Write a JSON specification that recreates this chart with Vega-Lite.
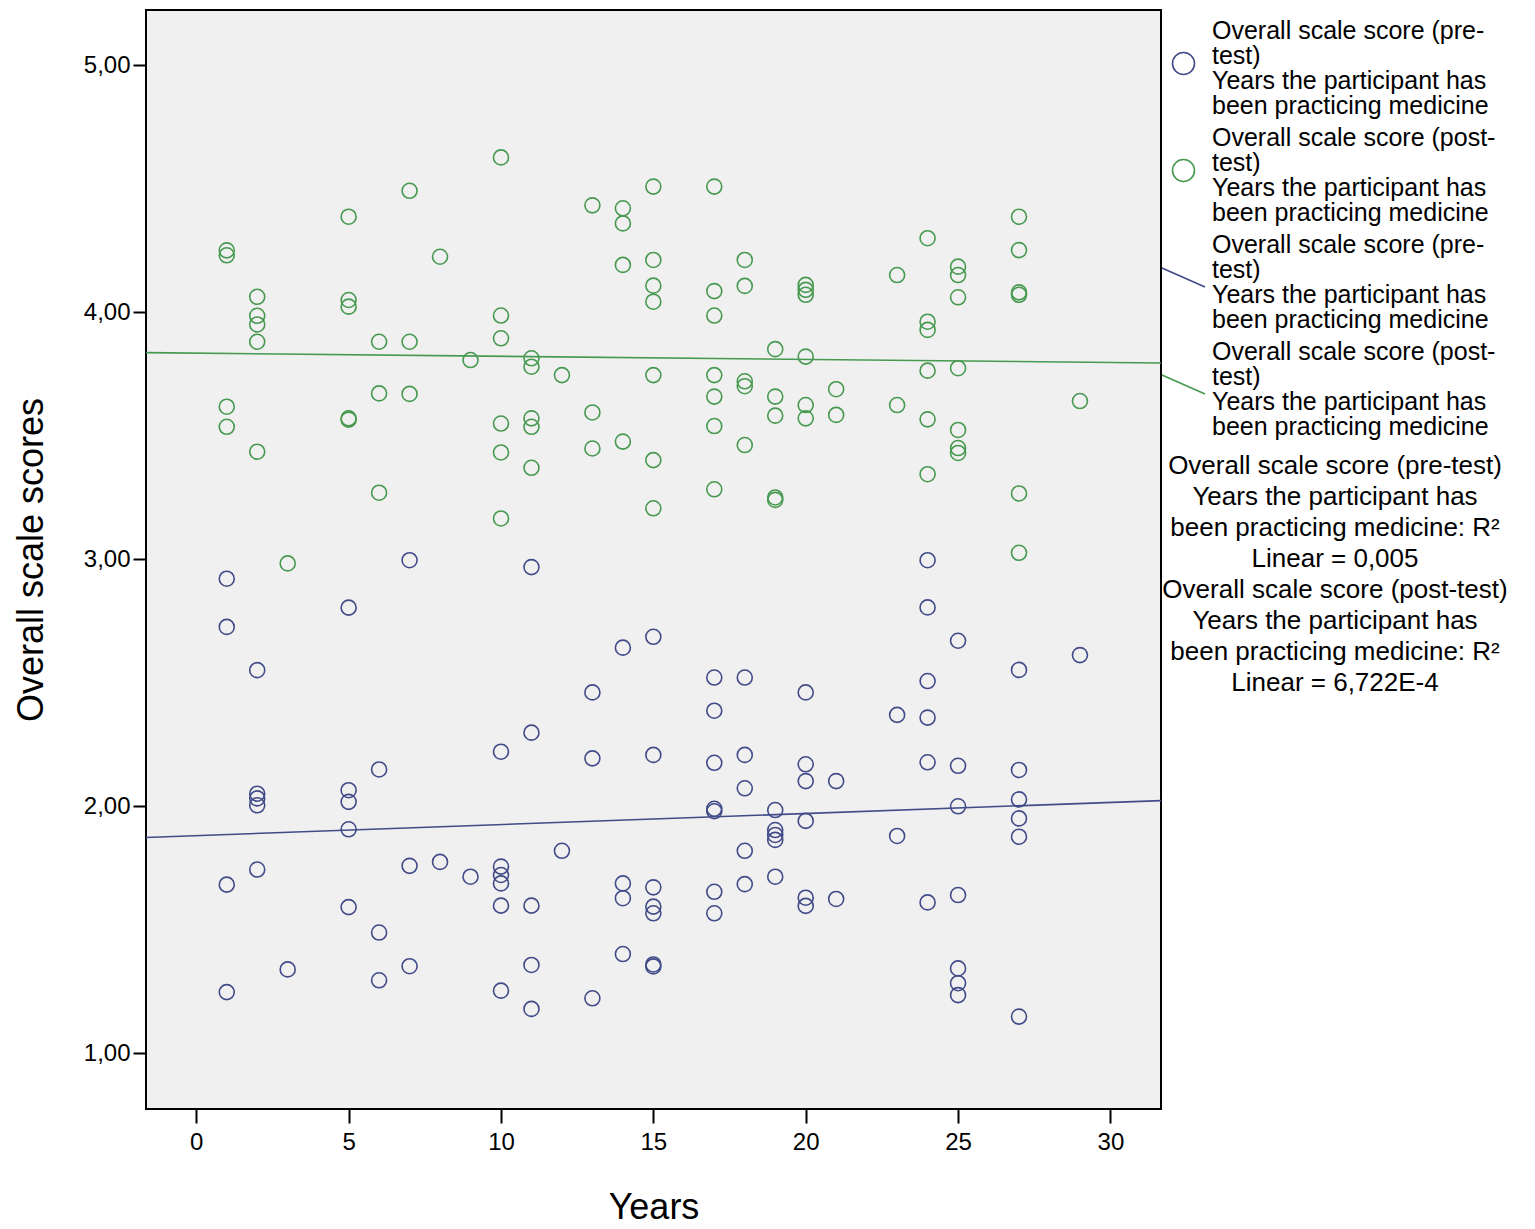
{
  "$schema": "https://vega.github.io/schema/vega-lite/v6.json",
  "autosize": "none",
  "width": 1015,
  "height": 1099,
  "padding": {"left": 146, "top": 10, "right": 374, "bottom": 120},
  "background": "white",
  "config": {
    "view": {"fill": "#f0f0f0", "stroke": "black", "strokeWidth": 2},
    "axis": {
      "labelFont": "Liberation Sans", "titleFont": "Liberation Sans",
      "labelColor": "black", "titleColor": "black", "tickColor": "black",
      "labelFontSize": 24, "titleFontSize": 36, "titleFontWeight": "normal",
      "grid": false, "domain": false, "tickWidth": 2
    }
  },
  "data": {"values": [
    {"years":1,"score":2.921,"series":"pre"},{"years":1,"score":2.726,"series":"pre"},{"years":1,"score":1.683,"series":"pre"},{"years":1,"score":1.248,"series":"pre"},
    {"years":2,"score":2.551,"series":"pre"},{"years":2,"score":2.051,"series":"pre"},{"years":2,"score":2.032,"series":"pre"},{"years":2,"score":2.004,"series":"pre"},{"years":2,"score":1.744,"series":"pre"},
    {"years":3,"score":1.340,"series":"pre"},
    {"years":5,"score":2.804,"series":"pre"},{"years":5,"score":2.065,"series":"pre"},{"years":5,"score":2.018,"series":"pre"},{"years":5,"score":1.907,"series":"pre"},{"years":5,"score":1.592,"series":"pre"},
    {"years":6,"score":2.149,"series":"pre"},{"years":6,"score":1.489,"series":"pre"},{"years":6,"score":1.296,"series":"pre"},
    {"years":7,"score":2.996,"series":"pre"},{"years":7,"score":1.759,"series":"pre"},{"years":7,"score":1.353,"series":"pre"},
    {"years":8,"score":1.775,"series":"pre"},
    {"years":9,"score":1.715,"series":"pre"},
    {"years":10,"score":2.221,"series":"pre"},{"years":10,"score":1.756,"series":"pre"},{"years":10,"score":1.722,"series":"pre"},{"years":10,"score":1.688,"series":"pre"},{"years":10,"score":1.598,"series":"pre"},{"years":10,"score":1.254,"series":"pre"},
    {"years":11,"score":2.968,"series":"pre"},{"years":11,"score":2.298,"series":"pre"},{"years":11,"score":1.598,"series":"pre"},{"years":11,"score":1.358,"series":"pre"},{"years":11,"score":1.180,"series":"pre"},
    {"years":12,"score":1.820,"series":"pre"},
    {"years":13,"score":2.461,"series":"pre"},{"years":13,"score":2.194,"series":"pre"},{"years":13,"score":1.223,"series":"pre"},
    {"years":14,"score":2.642,"series":"pre"},{"years":14,"score":1.688,"series":"pre"},{"years":14,"score":1.628,"series":"pre"},{"years":14,"score":1.402,"series":"pre"},
    {"years":15,"score":2.686,"series":"pre"},{"years":15,"score":2.208,"series":"pre"},{"years":15,"score":1.672,"series":"pre"},{"years":15,"score":1.594,"series":"pre"},{"years":15,"score":1.567,"series":"pre"},{"years":15,"score":1.360,"series":"pre"},{"years":15,"score":1.352,"series":"pre"},
    {"years":17,"score":2.521,"series":"pre"},{"years":17,"score":2.387,"series":"pre"},{"years":17,"score":2.176,"series":"pre"},{"years":17,"score":1.990,"series":"pre"},{"years":17,"score":1.980,"series":"pre"},{"years":17,"score":1.654,"series":"pre"},{"years":17,"score":1.567,"series":"pre"},
    {"years":18,"score":2.521,"series":"pre"},{"years":18,"score":2.208,"series":"pre"},{"years":18,"score":2.073,"series":"pre"},{"years":18,"score":1.820,"series":"pre"},{"years":18,"score":1.685,"series":"pre"},
    {"years":19,"score":1.985,"series":"pre"},{"years":19,"score":1.904,"series":"pre"},{"years":19,"score":1.884,"series":"pre"},{"years":19,"score":1.864,"series":"pre"},{"years":19,"score":1.715,"series":"pre"},
    {"years":20,"score":2.461,"series":"pre"},{"years":20,"score":2.170,"series":"pre"},{"years":20,"score":2.102,"series":"pre"},{"years":20,"score":1.941,"series":"pre"},{"years":20,"score":1.630,"series":"pre"},{"years":20,"score":1.597,"series":"pre"},
    {"years":21,"score":2.102,"series":"pre"},{"years":21,"score":1.625,"series":"pre"},
    {"years":23,"score":2.370,"series":"pre"},{"years":23,"score":1.880,"series":"pre"},
    {"years":24,"score":2.996,"series":"pre"},{"years":24,"score":2.805,"series":"pre"},{"years":24,"score":2.507,"series":"pre"},{"years":24,"score":2.359,"series":"pre"},{"years":24,"score":2.178,"series":"pre"},{"years":24,"score":1.611,"series":"pre"},
    {"years":25,"score":2.670,"series":"pre"},{"years":25,"score":2.164,"series":"pre"},{"years":25,"score":2.000,"series":"pre"},{"years":25,"score":1.641,"series":"pre"},{"years":25,"score":1.344,"series":"pre"},{"years":25,"score":1.284,"series":"pre"},{"years":25,"score":1.236,"series":"pre"},
    {"years":27,"score":2.552,"series":"pre"},{"years":27,"score":2.147,"series":"pre"},{"years":27,"score":2.028,"series":"pre"},{"years":27,"score":1.951,"series":"pre"},{"years":27,"score":1.877,"series":"pre"},{"years":27,"score":1.149,"series":"pre"},
    {"years":29,"score":2.612,"series":"pre"},

    {"years":1,"score":4.250,"series":"post"},{"years":1,"score":4.230,"series":"post"},{"years":1,"score":3.617,"series":"post"},{"years":1,"score":3.536,"series":"post"},
    {"years":2,"score":4.062,"series":"post"},{"years":2,"score":3.985,"series":"post"},{"years":2,"score":3.950,"series":"post"},{"years":2,"score":3.880,"series":"post"},{"years":2,"score":3.435,"series":"post"},
    {"years":3,"score":2.983,"series":"post"},
    {"years":5,"score":4.386,"series":"post"},{"years":5,"score":4.049,"series":"post"},{"years":5,"score":4.022,"series":"post"},{"years":5,"score":3.570,"series":"post"},{"years":5,"score":3.565,"series":"post"},
    {"years":6,"score":3.880,"series":"post"},{"years":6,"score":3.671,"series":"post"},{"years":6,"score":3.269,"series":"post"},
    {"years":7,"score":4.491,"series":"post"},{"years":7,"score":3.880,"series":"post"},{"years":7,"score":3.669,"series":"post"},
    {"years":8,"score":4.224,"series":"post"},
    {"years":9,"score":3.806,"series":"post"},
    {"years":10,"score":4.626,"series":"post"},{"years":10,"score":3.986,"series":"post"},{"years":10,"score":3.894,"series":"post"},{"years":10,"score":3.549,"series":"post"},{"years":10,"score":3.432,"series":"post"},{"years":10,"score":3.165,"series":"post"},
    {"years":11,"score":3.813,"series":"post"},{"years":11,"score":3.779,"series":"post"},{"years":11,"score":3.570,"series":"post"},{"years":11,"score":3.536,"series":"post"},{"years":11,"score":3.370,"series":"post"},
    {"years":12,"score":3.745,"series":"post"},
    {"years":13,"score":4.432,"series":"post"},{"years":13,"score":3.594,"series":"post"},{"years":13,"score":3.448,"series":"post"},
    {"years":14,"score":4.420,"series":"post"},{"years":14,"score":4.359,"series":"post"},{"years":14,"score":4.191,"series":"post"},{"years":14,"score":3.476,"series":"post"},
    {"years":15,"score":4.508,"series":"post"},{"years":15,"score":4.211,"series":"post"},{"years":15,"score":4.107,"series":"post"},{"years":15,"score":4.042,"series":"post"},{"years":15,"score":3.745,"series":"post"},{"years":15,"score":3.401,"series":"post"},{"years":15,"score":3.206,"series":"post"},
    {"years":17,"score":4.508,"series":"post"},{"years":17,"score":4.085,"series":"post"},{"years":17,"score":3.986,"series":"post"},{"years":17,"score":3.745,"series":"post"},{"years":17,"score":3.658,"series":"post"},{"years":17,"score":3.539,"series":"post"},{"years":17,"score":3.283,"series":"post"},
    {"years":18,"score":4.211,"series":"post"},{"years":18,"score":4.106,"series":"post"},{"years":18,"score":3.720,"series":"post"},{"years":18,"score":3.700,"series":"post"},{"years":18,"score":3.462,"series":"post"},
    {"years":19,"score":3.850,"series":"post"},{"years":19,"score":3.658,"series":"post"},{"years":19,"score":3.581,"series":"post"},{"years":19,"score":3.250,"series":"post"},{"years":19,"score":3.240,"series":"post"},
    {"years":20,"score":4.110,"series":"post"},{"years":20,"score":4.090,"series":"post"},{"years":20,"score":4.070,"series":"post"},{"years":20,"score":3.820,"series":"post"},{"years":20,"score":3.624,"series":"post"},{"years":20,"score":3.570,"series":"post"},
    {"years":21,"score":3.688,"series":"post"},{"years":21,"score":3.584,"series":"post"},
    {"years":23,"score":4.150,"series":"post"},{"years":23,"score":3.624,"series":"post"},
    {"years":24,"score":4.299,"series":"post"},{"years":24,"score":3.961,"series":"post"},{"years":24,"score":3.928,"series":"post"},{"years":24,"score":3.763,"series":"post"},{"years":24,"score":3.566,"series":"post"},{"years":24,"score":3.344,"series":"post"},
    {"years":25,"score":4.184,"series":"post"},{"years":25,"score":4.150,"series":"post"},{"years":25,"score":4.060,"series":"post"},{"years":25,"score":3.773,"series":"post"},{"years":25,"score":3.523,"series":"post"},{"years":25,"score":3.450,"series":"post"},{"years":25,"score":3.430,"series":"post"},
    {"years":27,"score":4.386,"series":"post"},{"years":27,"score":4.251,"series":"post"},{"years":27,"score":4.080,"series":"post"},{"years":27,"score":4.070,"series":"post"},{"years":27,"score":3.266,"series":"post"},{"years":27,"score":3.026,"series":"post"},
    {"years":29,"score":3.640,"series":"post"},

    {"years":-1.65,"score":1.874,"series":"preFit"},{"years":31.66,"score":2.023,"series":"preFit"},
    {"years":-1.65,"score":3.836,"series":"postFit"},{"years":31.66,"score":3.794,"series":"postFit"}
  ]},
  "encoding": {
    "x": {"field": "years", "type": "quantitative",
      "scale": {"domain": [-1.65, 31.66], "nice": false, "zero": false},
      "axis": {"values": [0,5,10,15,20,25,30], "title": "Years", "tickSize": 14, "labelPadding": 7, "titlePadding": 36}},
    "y": {"field": "score", "type": "quantitative",
      "scale": {"domain": [0.775, 5.2226], "nice": false, "zero": false},
      "axis": {"values": [1,2,3,4,5], "title": "Overall scale scores", "tickSize": 13, "labelPadding": 3, "titlePadding": 33,
        "labelExpr": "replace(format(datum.value, '.2f'), '.', ',')"}},
    "color": {"field": "series", "type": "nominal",
      "scale": {"domain": ["pre","post","preFit","postFit","r2"],
                "range": ["#414b88","#46994f","#414b88","#46994f","#ffffff"]},
      "legend": {
        "title": null, "orient": "none", "legendX": 1025, "legendY": 41,
        "padding": 0, "rowPadding": 6, "symbolSize": 484, "symbolOffset": 0, "labelOffset": 16,
        "labelFont": "Liberation Sans", "labelFontSize": 25, "labelColor": "black", "labelLimit": 500,
        "symbolStrokeWidth": 1.6, "symbolFillColor": "transparent",
        "labelExpr": "datum.value == 'pre' || datum.value == 'preFit' ? ['Overall scale score (pre-', 'test)', '\u00a0Years the participant has', 'been practicing medicine'] : (datum.value == 'post' || datum.value == 'postFit' ? ['Overall scale score (post-', 'test)', '\u00a0Years the participant has', 'been practicing medicine'] : ['Overall scale score (pre-test)', 'Years the participant has', 'been practicing medicine: R²', 'Linear = 0,005', 'Overall scale score (post-test)', 'Years the participant has', 'been practicing medicine: R²', 'Linear = 6,722E-4'])",
        "encode": {
          "symbols": {"update": {
            "shape": {"signal": "indexof(['preFit','postFit'], datum.value) >= 0 ? 'M-1,-0.44L1,0.44' : 'circle'"},
            "size": {"signal": "indexof(['preFit','postFit'], datum.value) >= 0 ? 1849 : (datum.value == 'r2' ? 400 : 484)"},
            "y": {"signal": "datum.value == 'r2' ? datum.size * 0.5 - 9 : datum.size * 0.5"},
            "fill": {"value": "transparent"},
            "strokeWidth": {"value": 1.6},
            "opacity": {"signal": "datum.value == 'r2' ? 0 : 1"}
          }},
          "labels": {"update": {
            "align": {"signal": "datum.value == 'r2' ? 'center' : 'left'"},
            "dx": {"signal": "datum.value == 'r2' ? 123 : 0"},
            "dy": {"signal": "datum.value == 'r2' ? 0 : -33"},
            "fontSize": {"signal": "datum.value == 'r2' ? 26 : 25"},
            "lineHeight": {"signal": "datum.value == 'r2' ? 31 : 25"}
          }}
        }
      }}
  },
  "layer": [
    {
      "transform": [{"filter": "datum.series == 'pre' || datum.series == 'post'"}],
      "mark": {"type": "point", "shape": "circle", "filled": false, "size": 225, "strokeWidth": 1.6, "opacity": 1}
    },
    {
      "transform": [{"filter": "datum.series == 'preFit' || datum.series == 'postFit'"}],
      "mark": {"type": "line", "strokeWidth": 1.6}
    }
  ]
}
